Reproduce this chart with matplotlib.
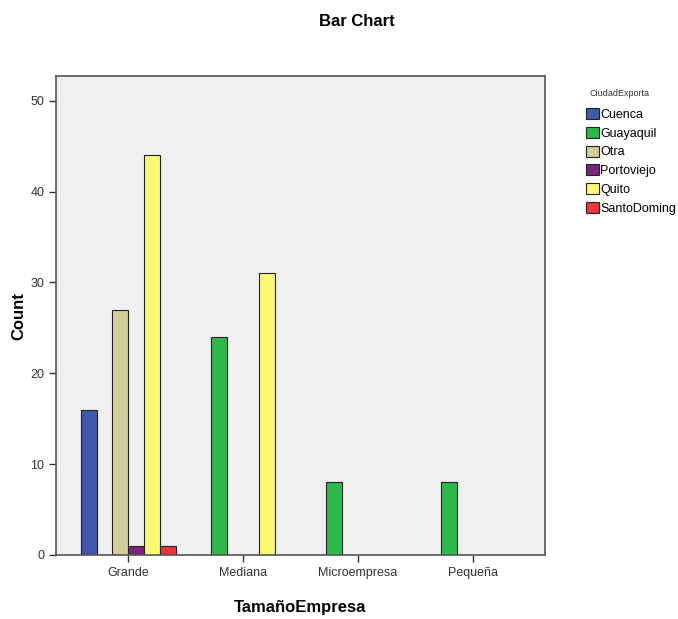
import numpy as np
import matplotlib
matplotlib.use("Agg")
import matplotlib.pyplot as plt
import matplotlib.patches as mpatches

plt.rcParams["font.family"] = ["Liberation Sans", "DejaVu Sans"]

# tamaño de empresa en eje x, ciudad como series
sizes = ["Grande", "Mediana", "Microempresa", "Pequeña"]
cities = ["Cuenca", "Guayaquil", "Otra", "Portoviejo", "Quito", "SantoDoming"]
city_colors = ["#3E58AC", "#2DB84B", "#D2CE99", "#7B2580", "#FBF873", "#EF3338"]

cuenca      = [16, 0, 0, 0]
guayaquil   = [0, 24, 8, 8]
otra        = [27, 0, 0, 0]
portoviejo  = [1, 0, 0, 0]
quito       = [44, 31, 0, 0]
santodoming = [1, 0, 0, 0]
counts = [cuenca, guayaquil, otra, portoviejo, quito, santodoming]

fig = plt.figure(figsize=(6.78, 6.19), dpi=100)
ax = fig.add_axes([0.0826, 0.1034, 0.7214, 0.7736])
ax.set_facecolor("#F0F0F0")

x = np.arange(len(sizes))
w = 0.138
for i, (vals, color) in enumerate(zip(counts, city_colors)):
    vals = np.array(vals)
    mask = vals > 0
    ax.bar(x[mask] + (i - 2.5) * w, vals[mask], w, color=color,
           edgecolor="#222222", linewidth=0.8)

ax.set_xlim(-0.63, 3.63)
ax.set_ylim(0, 52.7)
ax.set_xticks(x)
ax.set_xticklabels(sizes, fontsize=9)
ax.set_yticks([0, 10, 20, 30, 40, 50])
ax.tick_params(axis="both", direction="out", length=5, width=1, colors="#333333", labelsize=9)
for sp in ax.spines.values():
    sp.set_color("#555555")
    sp.set_linewidth(1.2)

ax.set_ylabel("Count", fontsize=12, fontweight="bold", labelpad=3)
ax.set_xlabel("TamañoEmpresa", fontsize=12, fontweight="bold", labelpad=15)

fig.text(0.527, 0.965, "Bar Chart", ha="center", va="center",
         fontsize=12, fontweight="bold")

# leyenda a la derecha, título aparte
fig.text(620 / 678, 1 - 93 / 619, "CiudadExporta", ha="center", va="center",
         fontsize=6.5, color="#333333")
handles = [mpatches.Patch(facecolor=c, edgecolor="#222222", linewidth=0.8, label=n)
           for n, c in zip(cities, city_colors)]
leg = fig.legend(handles=handles, loc="upper left",
                 bbox_to_anchor=(586 / 678, 1 - 108 / 619),
                 frameon=False, fontsize=9, handlelength=1.0, handleheight=1.0,
                 handletextpad=0.15, labelspacing=0.47, borderpad=0, borderaxespad=0)

fig.savefig("out.png", dpi=100, facecolor="white")
